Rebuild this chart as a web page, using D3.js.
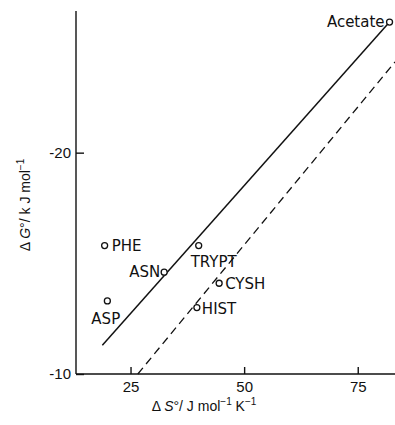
<!DOCTYPE html>
<html>
<head>
<meta charset="utf-8">
<script src="https://cdn.jsdelivr.net/npm/d3@7"></script>
<style>
  html, body { margin: 0; padding: 0; background: #fff; }
  svg { display: block; font-family: "DejaVu Sans", sans-serif; }
</style>
</head>
<body>
<svg id="chart"></svg>
<script>
// values
const names = ["Acetate", "PHE", "ASN", "ASP", "TRYPT", "CYSH", "HIST"];
const entropy = [82.0, 19.3, 32.4, 19.9, 40.0, 44.5, 39.6];      // ΔS° / J mol-1 K-1
const energy = [-25.9, -15.8, -14.6, -13.3, -15.8, -14.1, -13.0]; // ΔG° / kJ mol-1
const solidLine = [[18.8, -11.3], [82.0, -25.9]];
const dashedLine = [[26.6, -10.0], [83.2, -24.1]];
const xTicks = [25, 50, 75];
const yTicks = [-10, -20];

const width = 395, height = 425;
const svg = d3.select("#chart").attr("width", width).attr("height", height);

const x = d3.scaleLinear().domain([13, 83.2]).range([76, 395]);
const y = d3.scaleLinear().domain([-10, -26.4]).range([374, 11]);

// axes, ticks pointing inward
svg.append("g")
  .attr("transform", "translate(0," + y(-10) + ")")
  .call(d3.axisBottom(x).tickValues(xTicks).tickSizeInner(-7).tickSizeOuter(0).tickPadding(7))
  .call(g => g.select(".domain").attr("d", "M" + x(13) + ",0H" + width))
  .call(g => g.selectAll("text").attr("font-size", 15).attr("fill", "#111").attr("font-family", null));

svg.append("g")
  .attr("transform", "translate(" + x(13) + ",0)")
  .call(d3.axisLeft(y).tickValues(yTicks).tickFormat(d => "-" + Math.abs(d))
    .tickSizeInner(-8).tickSizeOuter(0).tickPadding(5))
  .call(g => g.select(".domain").attr("d", "M0," + y(-26.4) + "V" + y(-10)))
  .call(g => g.selectAll("text").attr("font-size", 15).attr("fill", "#111").attr("font-family", null));

svg.selectAll(".domain, .tick line").attr("stroke", "#111").attr("stroke-width", 1.4);

const line = d3.line().x(d => x(d[0])).y(d => y(d[1]));

svg.append("path").datum(solidLine)
  .attr("d", line).attr("fill", "none").attr("stroke", "#111").attr("stroke-width", 1.5);

svg.append("path").datum(dashedLine)
  .attr("d", line).attr("fill", "none").attr("stroke", "#111").attr("stroke-width", 1.3)
  .attr("stroke-dasharray", "8,5");

const points = names.map((n, i) => ({ name: n, s: entropy[i], g: energy[i] }));

svg.selectAll("circle.pt").data(points).join("circle")
  .attr("class", "pt")
  .attr("cx", d => x(d.s)).attr("cy", d => y(d.g)).attr("r", 3)
  .attr("fill", "#fff").attr("stroke", "#111").attr("stroke-width", 1.3);

// label placement relative to each point
const place = {
  Acetate: { dx: -5, dy: 5, anchor: "end" },
  PHE: { dx: 7, dy: 5, anchor: "start" },
  ASN: { dx: -4, dy: 5, anchor: "end" },
  ASP: { dx: -16, dy: 23, anchor: "start" },
  TRYPT: { dx: -8, dy: 21, anchor: "start" },
  CYSH: { dx: 6, dy: 6, anchor: "start" },
  HIST: { dx: 5, dy: 6, anchor: "start" }
};

svg.selectAll("text.lbl").data(points).join("text")
  .attr("class", "lbl")
  .attr("x", d => x(d.s) + place[d.name].dx)
  .attr("y", d => y(d.g) + place[d.name].dy)
  .attr("text-anchor", d => place[d.name].anchor)
  .attr("font-size", 15).attr("fill", "#111")
  .text(d => d.name);

// axis titles
const xt = svg.append("text")
  .attr("x", 204).attr("y", 411)
  .attr("text-anchor", "middle").attr("font-size", 14).attr("fill", "#111")
  .attr("font-family", "'Liberation Sans', Arial, sans-serif");
xt.append("tspan").text("Δ ");
xt.append("tspan").attr("font-style", "italic").text("S");
xt.append("tspan").text("°/ J mol");
xt.append("tspan").attr("dy", -6).attr("font-size", 10).text("−1");
xt.append("tspan").attr("dy", 6).text(" K");
xt.append("tspan").attr("dy", -6).attr("font-size", 10).text("−1");

const yt = svg.append("text")
  .attr("transform", "translate(30,205) rotate(-90)")
  .attr("text-anchor", "middle").attr("font-size", 14).attr("fill", "#111")
  .attr("font-family", "'Liberation Sans', Arial, sans-serif");
yt.append("tspan").text("Δ ");
yt.append("tspan").attr("font-style", "italic").text("G");
yt.append("tspan").text("°/ k J mol");
yt.append("tspan").attr("dy", -6).attr("font-size", 10).text("−1");
</script>
</body>
</html>
